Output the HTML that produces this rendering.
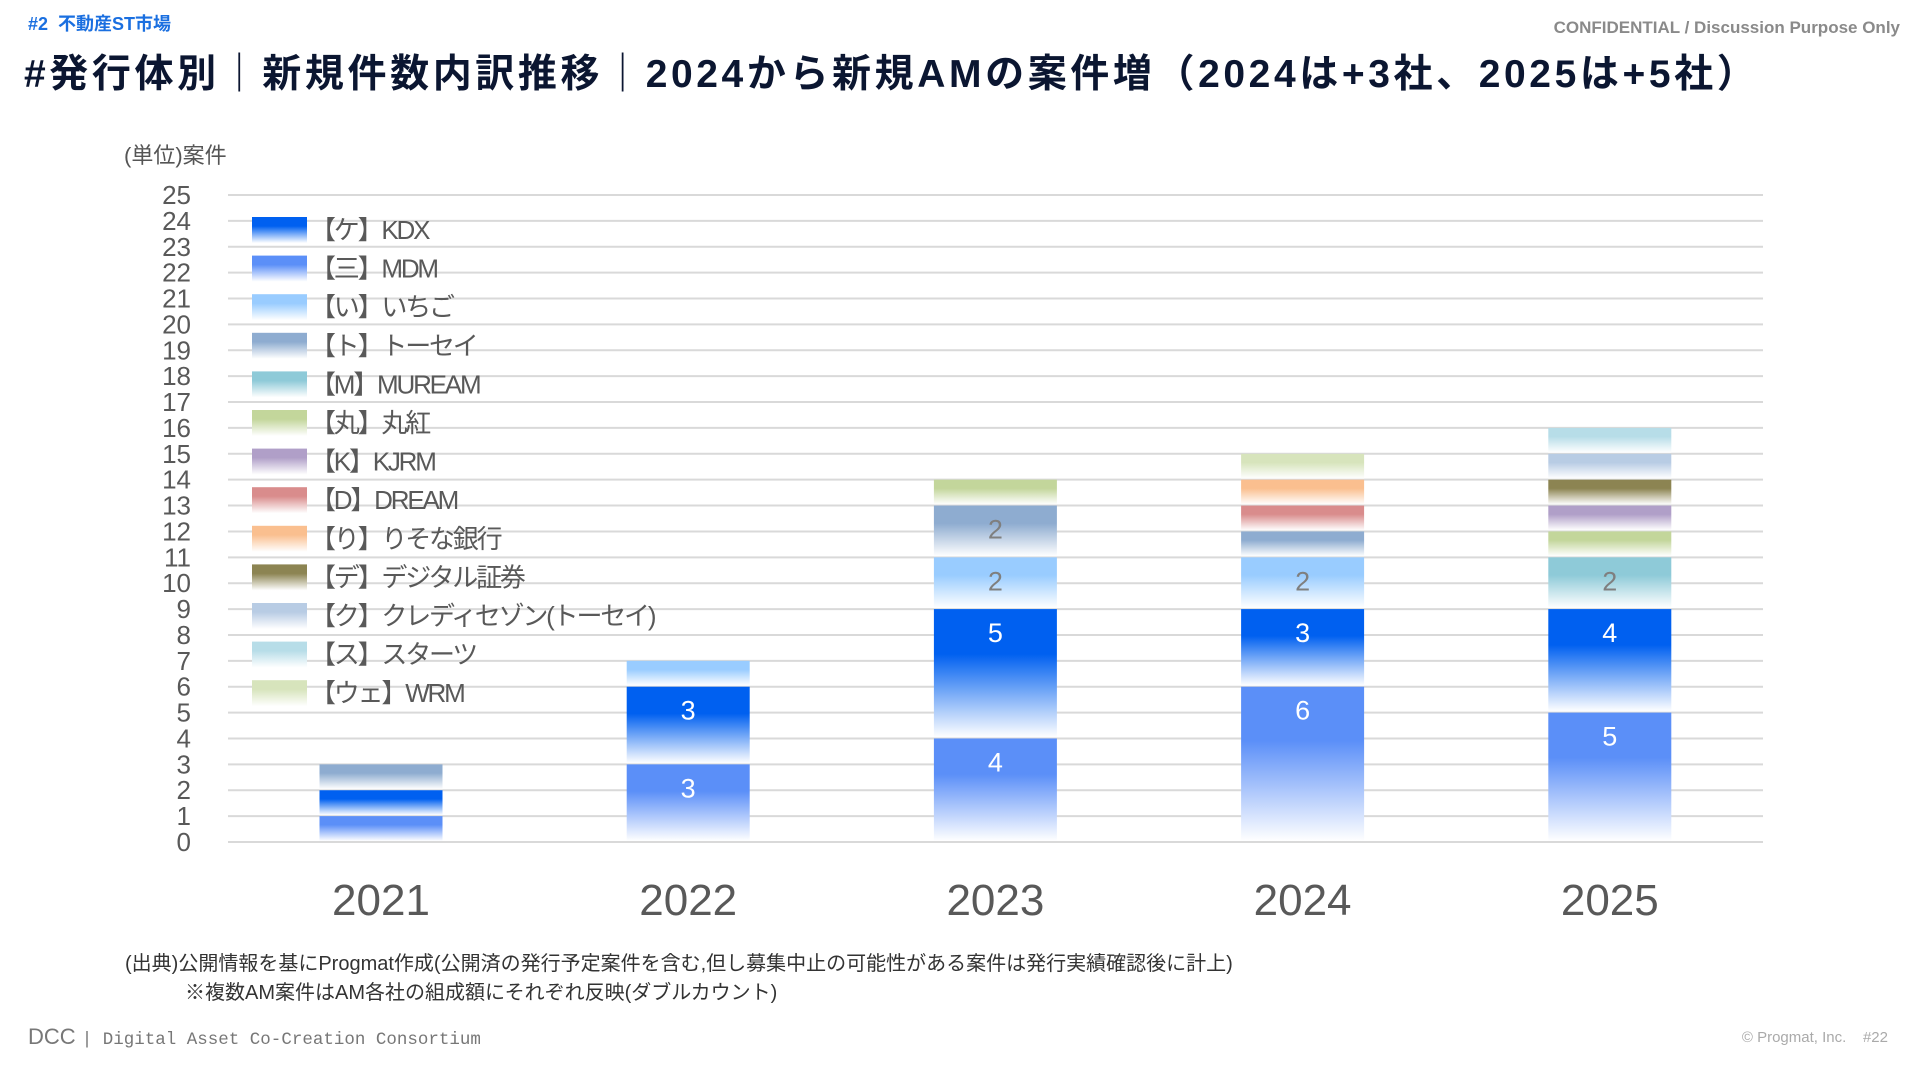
<!DOCTYPE html>
<html><head><meta charset="utf-8">
<style>
body{margin:0;width:1920px;height:1080px;background:#fff;overflow:hidden;font-family:"Liberation Sans","Noto Sans CJK JP",sans-serif;position:relative}
.abs{position:absolute;white-space:nowrap}
</style></head><body>
<div class="abs" style="left:28px;top:10px;font-size:18px;font-weight:bold;color:#1a6fe0">#2&nbsp; 不動産ST市場</div>
<div class="abs" style="right:20px;top:18px;font-size:17px;font-weight:bold;color:#8a8a8a">CONFIDENTIAL / Discussion Purpose Only</div>
<div class="abs" style="left:24px;top:43px;font-size:39px;font-weight:bold;color:#0b1631;letter-spacing:3.6px">#発行体別｜新規件数内訳推移｜2024から新規AMの案件増（2024は+3社、2025は+5社）</div>
<div class="abs" style="left:124px;top:138px;font-size:22px;color:#555">(単位)案件</div>
<svg id="chart" width="1920" height="1080" style="position:absolute;left:0;top:0"></svg>
<div class="abs" style="left:125px;top:947px;font-size:20px;color:#333">(出典)公開情報を基にProgmat作成(公開済の発行予定案件を含む,但し募集中止の可能性がある案件は発行実績確認後に計上)</div>
<div class="abs" style="left:185px;top:976px;font-size:20px;color:#333">※複数AM案件はAM各社の組成額にそれぞれ反映(ダブルカウント)</div>
<div class="abs" style="left:28px;top:1024px;font-size:22px;color:#777">DCC <span style="font-family:'Liberation Mono',monospace;font-size:17.5px">| Digital Asset Co-Creation Consortium</span></div>
<div class="abs" style="right:32px;top:1029px;font-size:15px;color:#aaa">© Progmat, Inc. &nbsp;&nbsp;&nbsp;#22</div>
<script>
const years=["2021","2022","2023","2024","2025"];
const seriesNames=["【ケ】KDX","【三】MDM","【い】いちご","【ト】トーセイ","【M】MUREAM","【丸】丸紅","【K】KJRM","【D】DREAM","【り】りそな銀行","【デ】デジタル証券","【ク】クレディセゾン(トーセイ)","【ス】スターツ","【ウェ】WRM"];
const seriesColors=["#0060f0","#5b8ff8","#99ccff","#8eacd0","#8ecad8","#c3d69b","#b09fc8","#d98c8c","#fabf8f","#8c8452","#b8cce4","#b7dde8","#d7e4bc"];
const stackOrder=[1,0,2,3,4,5,6,7,8,9,10,11,12];
const KDX=[1,3,5,3,4];
const MDM=[1,3,4,6,5];
const ICHIGO=[0,1,2,2,0];
const TOSEI=[1,0,2,1,0];
const MUREAM=[0,0,0,0,2];
const MARUBENI=[0,0,1,0,1];
const KJRM=[0,0,0,0,1];
const DREAM=[0,0,0,1,0];
const RESONA=[0,0,0,1,0];
const DIGITAL=[0,0,0,0,1];
const SAISON=[0,0,0,0,1];
const STARTS=[0,0,0,0,1];
const WRM=[0,0,0,1,0];
const values=[KDX,MDM,ICHIGO,TOSEI,MUREAM,MARUBENI,KJRM,DREAM,RESONA,DIGITAL,SAISON,STARTS,WRM];
const yTicks=[0,1,2,3,4,5,6,7,8,9,10,11,12,13,14,15,16,17,18,19,20,21,22,23,24,25];

const svg=document.getElementById('chart');
const NS='http://www.w3.org/2000/svg';
const x0=228,x1=1763,yBase=842,yTop=195,yMax=25;
const y=v=>yBase-(yBase-yTop)*v/yMax;
const xc=i=>381+i*307.2;
const bw=123;
function mk(t,a){const e=document.createElementNS(NS,t);for(const k in a)e.setAttribute(k,a[k]);svg.appendChild(e);return e;}
const defs=mk('defs',{});
seriesColors.forEach((c,i)=>{
  const g=document.createElementNS(NS,'linearGradient');
  g.setAttribute('id','g'+i);g.setAttribute('x1','0');g.setAttribute('y1','0');g.setAttribute('x2','0');g.setAttribute('y2','1');
  g.innerHTML='<stop offset="0" stop-color="'+c+'"/><stop offset="0.35" stop-color="'+c+'"/><stop offset="1" stop-color="#ffffff"/>';
  defs.appendChild(g);
});
yTicks.forEach(t=>{
  const l=mk('line',{x1:x0,x2:x1,y1:y(t),y2:y(t),stroke:'#d9d9d9','stroke-width':2});
  
  
  const tx=mk('text',{x:191,y:y(t)+9,'text-anchor':'end','font-size':26,fill:'#595959'});
  tx.textContent=t;
  
  
});
years.forEach((yr,i)=>{
  let cum=0;
  stackOrder.forEach(s=>{
    const v=values[s][i];if(!v)return;
    const r=mk('rect',{x:xc(i)-bw/2,y:y(cum+v),width:bw,height:y(cum)-y(cum+v)-1,fill:'url(#g'+s+')'});
    
    
    if(v>=2){
      const t=mk('text',{x:xc(i),y:y(cum+v)+33,'text-anchor':'middle','font-size':27,fill:(s<=1?'#ffffff':'#7f7f7f')});
      t.textContent=v;
      
      
    }
    cum+=v;
  });
  const t=mk('text',{x:xc(i),y:915,'text-anchor':'middle','font-size':44,fill:'#595959'});
  t.textContent=yr;
  
  
});
seriesNames.forEach((n,i)=>{
  const ly=229+i*38.6;
  const r=mk('rect',{x:252,y:ly-12,width:55,height:26,fill:'url(#g'+i+')'});
  
  
  const t=mk('text',{x:310,y:ly+10,'font-size':26,fill:'#595959','letter-spacing':'-2.2'});
  t.textContent=n;
  
  
});
</script>
</body></html>
